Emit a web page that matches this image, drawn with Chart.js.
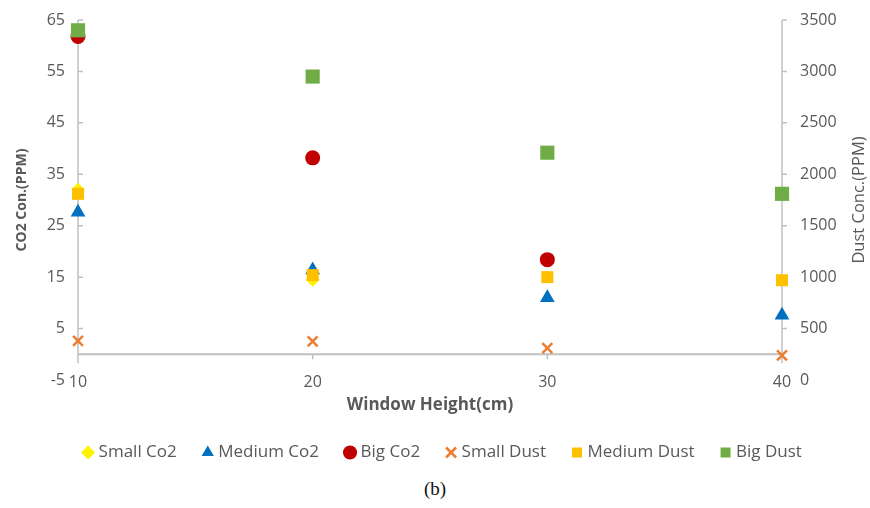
<!DOCTYPE html>
<html>
<head>
<meta charset="utf-8">
<script src="https://cdn.jsdelivr.net/npm/chart.js@4.4.1/dist/chart.umd.min.js"></script>
<style>
  body { margin: 0; background: #fff; }
  #wrap { position: relative; width: 870px; height: 508px; }
  #box { position: absolute; left: 0; top: 0; width: 870px; height: 471px; }
  #caption { position: absolute; left: 0; top: 478px; width: 870px; text-align: center;
             font-family: "Liberation Serif", serif; font-size: 19px; color: #111; }
</style>
</head>
<body>
<div id="wrap">
  <div id="box"><canvas id="grafico"></canvas></div>
  <div id="caption">(b)</div>
</div>
<script>
const alturas = [10, 20, 30, 40];

const smallCo2 = [32, 14.5, null, null];
const mediumCo2 = [27.6, 16.4, 11, 7.6];
const bigCo2 = [61.8, 38.2, 18.4, null];
const smallDust = [380, 375, 310, 240];
const mediumDust = [1810, 1020, 1000, 970];
const bigDust = [3400, 2950, 2210, 1810];

const ticksCo2 = [-5, 5, 15, 25, 35, 45, 55, 65];
const ticksDust = [0, 500, 1000, 1500, 2000, 2500, 3000, 3500];

const cinza = '#595959';
const linhaEixo = '#c0c0c0';

Chart.defaults.font.family = "'Open Sans', sans-serif";
Chart.defaults.color = cinza;

function pontos(valores) {
    return alturas.map((x, i) => ({ x: x, y: valores[i] }));
}

// eixos cruzando em CO2 = 0, titulo da direita lido de baixo para cima
const eixosPlugin = {
    id: 'eixos',
    beforeDatasetsDraw(chart) {
        const { ctx, chartArea, scales } = chart;
        const y0 = scales.y.getPixelForValue(0);
        const fim = y0 + 9;
        ctx.save();
        ctx.strokeStyle = linhaEixo;
        ctx.lineWidth = 2;
        ctx.beginPath();
        ctx.moveTo(chartArea.left, y0);
        ctx.lineTo(chartArea.right, y0);
        ctx.stroke();

        ctx.lineWidth = 1.5;
        ctx.beginPath();
        ctx.moveTo(chartArea.left, chartArea.top);
        ctx.lineTo(chartArea.left, fim);
        ctx.moveTo(chartArea.right, chartArea.top);
        ctx.lineTo(chartArea.right, fim);
        scales.y.ticks.forEach(t => {
            if (t.value < 0) return;
            const py = scales.y.getPixelForValue(t.value);
            ctx.moveTo(chartArea.left, py);
            ctx.lineTo(chartArea.left + 5, py);
        });
        scales.y1.ticks.forEach(t => {
            if (t.value < 500) return;
            const py = scales.y1.getPixelForValue(t.value);
            ctx.moveTo(chartArea.right, py);
            ctx.lineTo(chartArea.right + 5, py);
        });
        scales.x.ticks.forEach(t => {
            const px = scales.x.getPixelForValue(t.value);
            ctx.moveTo(px, y0);
            ctx.lineTo(px, y0 + 5);
        });
        ctx.stroke();

        ctx.fillStyle = cinza;
        ctx.font = "16.5px 'Open Sans'";
        ctx.textAlign = 'center';
        ctx.textBaseline = 'middle';
        ctx.translate(scales.y1.right - 11, (chartArea.top + chartArea.bottom) / 2);
        ctx.rotate(-Math.PI / 2);
        ctx.fillText('Dust Conc.(PPM)', 0, 0);
        ctx.restore();
    }
};

const data = {
    datasets: [
        { label: 'Small Co2', data: pontos(smallCo2), yAxisID: 'y', order: 6,
          pointStyle: 'rectRot', radius: 7, backgroundColor: '#FFF200', borderColor: '#FFF200', borderWidth: 0 },
        { label: 'Medium Co2', data: pontos(mediumCo2), yAxisID: 'y', order: 5,
          pointStyle: 'triangle', radius: 8.5, backgroundColor: '#0070C0', borderColor: '#0070C0', borderWidth: 0 },
        { label: 'Big Co2', data: pontos(bigCo2), yAxisID: 'y', order: 4,
          pointStyle: 'circle', radius: 7.5, backgroundColor: '#C00000', borderColor: '#C00000', borderWidth: 0 },
        { label: 'Small Dust', data: pontos(smallDust), yAxisID: 'y1', order: 3,
          pointStyle: 'crossRot', radius: 7, backgroundColor: '#ED7D31', borderColor: '#ED7D31', borderWidth: 2.5 },
        { label: 'Medium Dust', data: pontos(mediumDust), yAxisID: 'y1', order: 2,
          pointStyle: 'rect', radius: 8.5, backgroundColor: '#FFC000', borderColor: '#FFC000', borderWidth: 0 },
        { label: 'Big Dust', data: pontos(bigDust), yAxisID: 'y1', order: 1,
          pointStyle: 'rect', radius: 10, backgroundColor: '#70AD47', borderColor: '#70AD47', borderWidth: 0 }
    ]
};

const config = {
    type: 'scatter',
    data,
    options: {
        responsive: true,
        maintainAspectRatio: false,
        animation: false,
        clip: false,
        layout: {
            padding: { top: 20, left: 18, right: 0, bottom: 0 }
        },
        plugins: {
            legend: {
                position: 'bottom',
                labels: {
                    usePointStyle: true,
                    boxWidth: 4,
                    boxHeight: 10,
                    padding: 29,
                    color: cinza,
                    font: { size: 17 },
                    sort: (a, b) => a.datasetIndex - b.datasetIndex
                }
            },
            tooltip: { enabled: false }
        },
        scales: {
            x: {
                type: 'linear',
                min: alturas[0],
                max: alturas[alturas.length - 1],
                grid: { display: false, drawTicks: false },
                border: { display: false },
                ticks: { stepSize: 10, mirror: true, padding: -12, font: { size: 16 }, color: cinza },
                title: {
                    display: true,
                    text: 'Window Height(cm)',
                    font: { size: 17, weight: 'bold' },
                    color: cinza,
                    padding: { top: 0, bottom: 0 }
                },
                afterFit: (scale) => { scale.height = 35; }
            },
            y: {
                position: 'left',
                min: ticksCo2[0],
                max: ticksCo2[ticksCo2.length - 1],
                grid: { display: false, drawTicks: true, tickLength: 11 },
                border: { display: false },
                ticks: { padding: 2, font: { size: 16 }, color: cinza },
                afterBuildTicks: (scale) => { scale.ticks = ticksCo2.map(v => ({ value: v })); },
                title: {
                    display: true,
                    text: 'CO2 Con.(PPM)',
                    font: { size: 14, weight: 'bold' },
                    color: cinza,
                    padding: { top: -4.4, bottom: 0 }
                },
                afterFit: (scale) => { scale.width = 60; }
            },
            y1: {
                position: 'right',
                min: ticksDust[0],
                max: ticksDust[ticksDust.length - 1],
                grid: { display: false, drawTicks: true, tickLength: 16 },
                border: { display: false },
                ticks: { padding: 2, font: { size: 16 }, color: cinza, callback: (v) => String(v) },
                afterBuildTicks: (scale) => { scale.ticks = ticksDust.map(v => ({ value: v })); },
                afterFit: (scale) => { scale.width = 88; }
            }
        }
    },
    plugins: [eixosPlugin]
};

const ctx = document.getElementById('grafico').getContext('2d');
new Chart(ctx, config);
</script>
</body>
</html>
